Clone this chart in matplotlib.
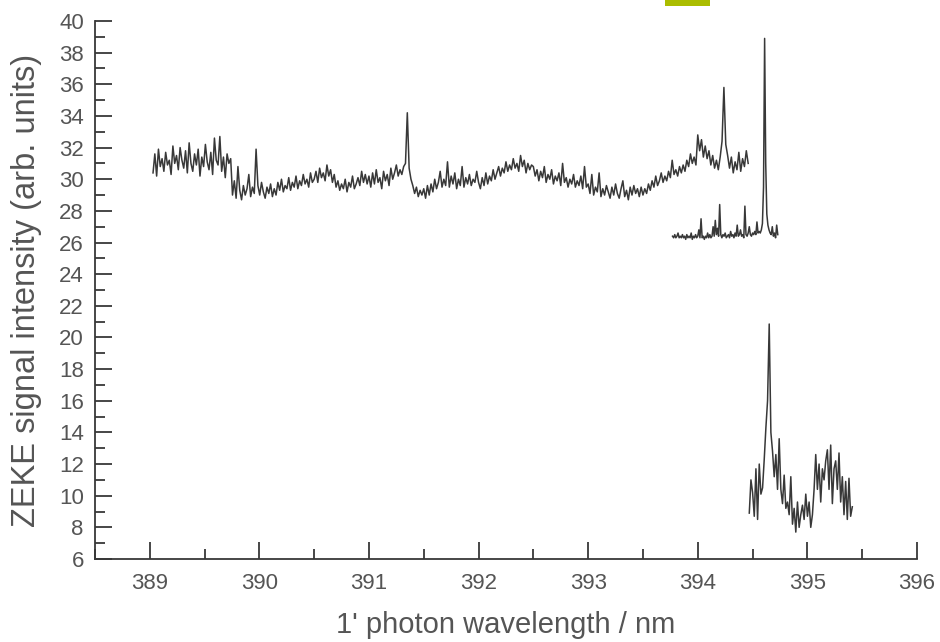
import numpy as np
import matplotlib
matplotlib.use("Agg")
import matplotlib.pyplot as plt
from matplotlib.patches import Rectangle
from matplotlib.ticker import MultipleLocator

plt.rcParams['font.family'] = ['Liberation Sans', 'DejaVu Sans']

# upper scan, in pieces (start, stop, intensity)
a1 = [30.4, 31.6, 30.2, 31.9, 30.8, 31.3, 30.5, 31.7, 30.9, 31.2,
      30.3, 32.1, 31.0, 31.5, 30.6, 32.0, 31.2, 30.7, 31.8, 30.4,
      32.3, 31.0, 30.5, 31.6, 30.9, 31.9, 30.2, 31.4, 30.8, 32.2,
      31.1, 30.6, 31.7, 30.3, 32.6, 31.2, 30.9, 32.7, 30.5, 31.4,
      30.1, 31.6, 31.0, 31.3]
a2 = [29.0, 29.9, 28.8, 30.8, 29.3, 28.7, 29.6, 29.0, 29.4, 30.3,
      28.9, 29.5, 29.1, 31.9, 29.6, 29.0, 29.8, 29.2, 28.8, 29.5,
      29.1, 29.7, 28.9, 29.4, 29.0, 29.8, 29.3, 30.0, 29.2, 29.6,
      29.4, 30.1, 29.3, 29.8, 29.5, 30.2, 29.4, 29.9, 29.6, 30.3,
      29.7, 30.0, 29.5, 30.4, 29.8]
a3 = [30.0, 30.5, 29.8, 30.7, 30.1, 30.4, 29.9, 30.9, 30.2, 30.6,
      29.8, 30.3, 29.5, 29.9, 29.3, 29.7, 29.4, 30.0, 29.2, 29.8,
      29.5, 30.2, 29.4, 29.7, 30.1, 29.6, 30.5, 29.8, 30.3, 29.7]
a4 = [30.2, 29.5, 30.4, 29.7, 30.6, 29.8, 30.1, 29.4, 30.5, 29.9,
      30.3, 29.6, 30.7, 30.0, 30.4, 30.9, 30.2, 30.6, 30.3, 30.8,
      31.0, 34.2, 30.7, 30.0, 29.6, 29.1, 29.5, 28.9, 29.3, 29.0]
a5 = [29.4, 28.8, 29.6, 29.0, 29.7, 29.2, 30.0, 29.4, 29.8, 30.5,
      29.5, 30.0, 29.6, 31.1, 29.5, 30.2, 29.7, 30.4, 29.4, 30.0,
      29.6, 30.8, 29.5, 30.1, 29.7, 30.3, 29.6, 30.0, 29.8, 30.5]
a6 = [29.8, 29.4, 30.1, 29.6, 30.4, 29.7, 30.2, 29.9, 30.6, 30.0,
      30.4, 30.8, 30.2, 30.7, 30.4, 31.1, 30.5, 30.9, 30.6, 31.3,
      30.7, 31.0, 30.5, 31.5, 30.8, 31.2, 30.4, 31.0, 30.6, 30.9]
a7 = [30.8, 30.2, 30.6, 29.9, 30.5, 30.1, 30.8, 29.8, 30.3, 30.0,
      30.6, 29.7, 30.2, 29.9, 30.4, 29.6, 31.0, 29.8, 30.1, 29.5,
      30.0, 29.7, 30.3, 29.5, 29.9, 29.6, 30.2, 29.4, 30.8, 29.5]
a8 = [29.7, 29.1, 30.3, 29.0, 29.5, 29.2, 30.4, 28.9, 29.4, 29.0,
      29.6, 29.2, 28.8, 29.5, 29.0, 29.7, 29.1, 28.8, 29.4, 29.9,
      28.9, 29.3, 28.7, 29.5, 29.0, 29.6, 29.1, 29.4, 28.9, 29.5]
a9 = [29.0, 29.4, 29.1, 29.7, 29.3, 29.9, 29.5, 30.2, 29.6, 29.9,
      30.4, 29.8, 30.2, 29.9, 30.5, 30.1, 31.2, 30.3, 30.6, 30.2,
      30.8, 30.4, 30.9, 30.5, 31.2, 30.8, 31.6, 31.0, 31.4, 30.9]
a10 = [32.8, 31.8, 32.5, 31.4, 32.1, 31.3, 31.8, 30.9, 31.5, 30.7,
       31.2, 30.6, 31.4, 32.4, 35.8, 32.2, 31.5, 30.7, 31.4, 30.4,
       31.1, 30.6, 31.7, 30.5, 31.3, 30.8, 31.8, 31.0]
upper_pieces = [(389.03, 389.755, a1), (389.755, 390.5, a2), (390.5, 391.0, a3),
                (391.0, 391.5, a4), (391.5, 392.0, a5), (392.0, 392.5, a6),
                (392.5, 393.0, a7), (393.0, 393.5, a8), (393.5, 394.0, a9)]
upper_last = (394.0, 394.46, a10)

# middle scan, 0.01 nm steps from 393.77 to 394.73
mid_start, mid_stop = 393.77, 394.73
mid = [26.4, 26.3, 26.5, 26.3, 26.4, 26.6, 26.3, 26.4, 26.3, 26.5,
       26.3, 26.4, 26.2, 26.5, 26.3, 26.4, 26.3, 26.6, 26.2, 26.4,
       26.3, 26.5, 26.3, 26.4, 26.8, 26.3, 27.5, 26.3, 26.4, 26.2,
       26.4, 26.3, 26.6, 26.3, 26.5, 26.3, 26.4, 27.0, 26.4, 27.4,
       26.5, 26.9, 26.4, 28.4, 26.5, 26.3, 26.5, 26.4, 26.6, 26.3,
       26.4, 26.5, 26.3, 26.7, 26.4, 26.5, 26.3, 26.6, 26.4, 27.1,
       26.4, 26.5, 26.8, 26.4, 26.5, 26.3, 28.3, 26.5, 26.4, 26.6,
       27.0, 26.5, 26.4, 26.6, 26.5, 26.7, 26.5, 27.3, 26.6, 26.7,
       26.6, 26.8, 27.2, 29.5, 38.9, 31.0, 27.8, 27.1, 26.8, 26.6,
       26.5, 27.0, 26.4, 26.6, 26.3, 27.1, 26.5]

# lower scan
low_start, low_stop = 394.47, 395.41
low = [8.9, 11.0, 10.2, 8.7, 11.7, 8.5, 12.0, 10.1, 10.5, 12.3,
       14.3, 16.0, 20.85, 14.0, 12.8, 11.2, 12.6, 10.4, 13.6, 10.4,
       9.5, 11.3, 9.2, 9.6, 8.8, 11.2, 8.2, 9.2, 7.7, 9.6,
       8.0, 8.8, 9.4, 8.5, 10.1, 8.7, 9.6, 8.0, 8.8, 10.4,
       12.6, 10.4, 12.0, 9.6, 11.7, 11.0, 12.2, 12.9, 10.4, 13.2,
       9.5, 11.7, 12.2, 10.4, 12.7, 9.6, 11.2, 8.8, 10.9, 8.5,
       11.1, 8.7, 9.3]

ink = '#383838'
txt = '#555555'

# stitch the upper scan
xu, yu = [], []
for lo, hi, vals in upper_pieces:
    xu.append(np.linspace(lo, hi, len(vals), endpoint=False))
    yu.append(vals)
xu.append(np.linspace(upper_last[0], upper_last[1], len(upper_last[2])))
yu.append(upper_last[2])
xu = np.concatenate(xu)
yu = np.concatenate(yu)

xm = np.linspace(mid_start, mid_stop, len(mid))
xl = np.linspace(low_start, low_stop, len(low))

fig = plt.figure(figsize=(9.4, 6.42), dpi=100)
ax = fig.add_axes([0.101, 0.1293, 0.8745, 0.838])

for x, y in [(xu, yu), (xm, mid), (xl, low)]:
    ax.plot(x, y, color=ink, lw=1.1)

ax.set_xlim(388.5, 396)
ax.set_ylim(6, 40)
ax.xaxis.set_major_locator(MultipleLocator(1))
ax.xaxis.set_minor_locator(MultipleLocator(0.5))
ax.yaxis.set_major_locator(MultipleLocator(2))
ax.yaxis.set_minor_locator(MultipleLocator(1))
ax.set_xticks(np.arange(389, 397, 1))

for s in ['top', 'right']:
    ax.spines[s].set_visible(False)
for s in ['left', 'bottom']:
    ax.spines[s].set_color(ink)
    ax.spines[s].set_linewidth(1.3)

ax.tick_params(which='both', direction='in', color=ink, width=1.3, labelcolor=txt,
               labelsize=16)
ax.tick_params(which='major', length=12)
ax.tick_params(which='minor', length=7)
ax.tick_params(axis='x', which='major', pad=10)
ax.tick_params(axis='y', which='major', pad=8)

ax.set_xlabel("1' photon wavelength / nm", fontsize=21, color=txt, labelpad=12)
ax.set_ylabel("ZEKE signal intensity (arb. units)", fontsize=23.5, color=txt, labelpad=12)

# highlight mark at the top edge of the page
fig.add_artist(Rectangle((665 / 940, 1 - 6 / 642), 45 / 940, 6 / 642,
                         transform=fig.transFigure, color='#abbd00', lw=0))

fig.savefig('out.png', dpi=100)
